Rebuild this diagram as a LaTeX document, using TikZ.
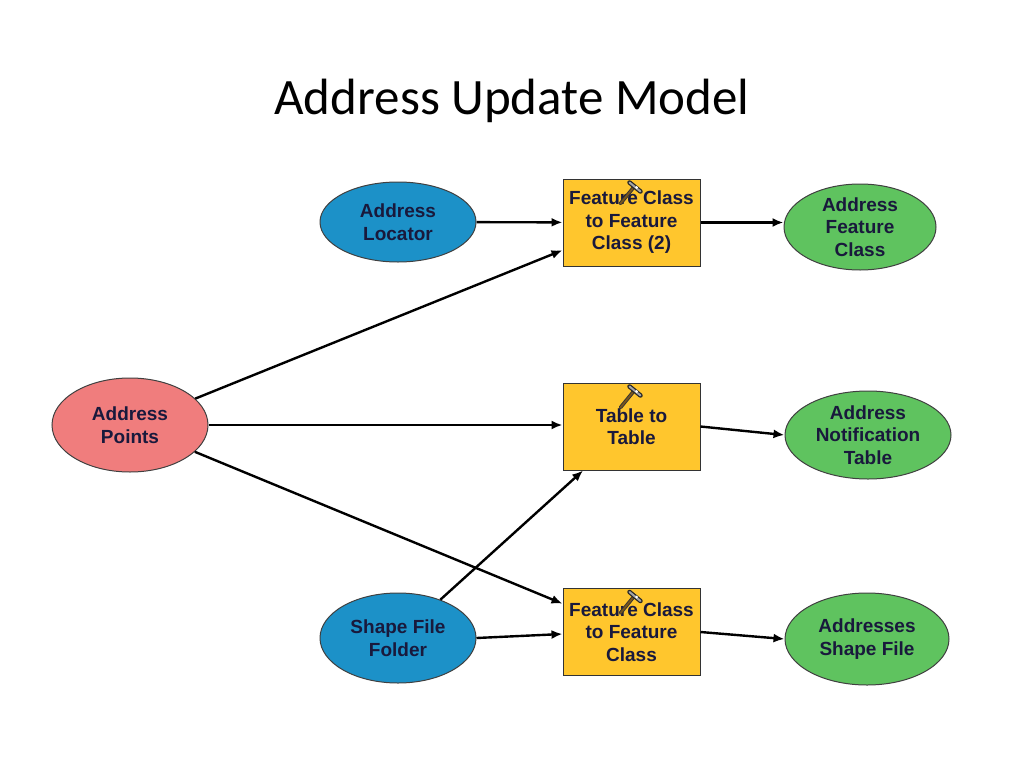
\documentclass[tikz,border=0pt]{standalone}
\usepackage{fontspec}
\setmainfont{Liberation Sans}
\newfontfamily\titlefont{Carlito}
\usetikzlibrary{shapes.geometric,arrows.meta,calc}
\definecolor{inblue}{RGB}{28,145,200}
\definecolor{insalmon}{RGB}{240,125,125}
\definecolor{outgreen}{RGB}{95,195,95}
\definecolor{toolyellow}{RGB}{255,198,45}
\definecolor{txtnavy}{RGB}{25,25,60}
\definecolor{handlebrown}{RGB}{120,85,30}
\tikzset{
  dataell/.style={ellipse, draw=black!75, line width=1pt, inner sep=0pt,
    align=center, font=\bfseries\fontsize{19}{22.5}\selectfont, text=txtnavy},
  toolbox/.style={rectangle, draw=black!80, line width=1pt, fill=toolyellow, inner sep=0pt,
    minimum width=137pt, minimum height=87pt, align=center,
    font=\bfseries\fontsize{19}{22.5}\selectfont, text=txtnavy},
  conn/.style={draw=black, line width=2.4pt, -{Latex[length=11pt,width=9pt]}}
}
\newcommand{\drawhammer}[1]{%
  \draw[draw=black!80, line width=3.6pt, line cap=round] ($(#1)+(-12,25)$) -- ($(#1)+(1,9)$);
  \draw[draw=handlebrown, line width=1.8pt, line cap=round] ($(#1)+(-12,25)$) -- ($(#1)+(1,9)$);
  \draw[draw=black!85, line width=4.5pt, line cap=round] ($(#1)+(-3,4)$) -- ($(#1)+(8,13)$);
  \draw[draw=black!35, line width=2pt, line cap=round] ($(#1)+(-3,4)$) -- ($(#1)+(8,13)$);
  \fill[white] ($(#1)+(4,9)$) circle (1.5pt);}
\begin{document}
\begin{tikzpicture}[x=1pt,y=-1pt]
\useasboundingbox (0,0) rectangle (1024,768);
\fill[white] (0,0) rectangle (1024,768);
\node[font=\titlefont\fontsize{51}{56}\selectfont] (title) at (512,101) {Address Update Model};

\node[dataell, fill=inblue, minimum width=156pt, minimum height=80pt] (al) at (398,222) {Address\\Locator};
\node[dataell, fill=insalmon, minimum width=156pt, minimum height=94pt] (ap) at (130,425) {Address\\Points};
\node[dataell, fill=inblue, minimum width=156pt, minimum height=90pt] (sf) at (398,638) {Shape File\\Folder};

\node[toolbox] (fc2) at (631.5,222.5) {Feature Class\\to Feature\\Class (2)};
\node[toolbox] (tt) at (631.5,426.5) {Table to\\Table};
\node[toolbox] (fc) at (631.5,632) {Feature Class\\to Feature\\Class};

\node[dataell, fill=outgreen, minimum width=152pt, minimum height=86pt] (afc) at (860,227) {Address\\Feature\\Class};
\node[dataell, fill=outgreen, minimum width=166pt, minimum height=88pt] (ant) at (868,435) {Address\\Notification\\Table};
\node[dataell, fill=outgreen, minimum width=164pt, minimum height=92pt] (asf) at (867,639) {Addresses\\Shape File};

\draw[conn] (al) -- (fc2);
\draw[conn] (ap) -- (fc2);
\draw[conn] (ap.east) -- (tt.west|-ap.east);
\draw[conn] (ap) -- (fc);
\draw[conn] (sf) -- (tt);
\draw[conn] (sf.east) -- ($(fc.west)+(0,2)$);
\draw[conn] (fc2.east) -- (afc.west|-fc2.east);
\draw[conn] (tt.east) -- (ant.west);
\draw[conn] (fc.east) -- (asf.west);

\drawhammer{$(fc2.north)+(1,0)$}
\drawhammer{$(tt.north)+(1,0)$}
\drawhammer{$(fc.north)+(1,0)$}
\end{tikzpicture}
\end{document}
